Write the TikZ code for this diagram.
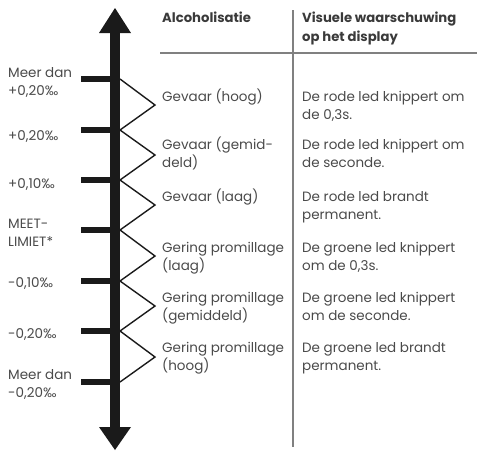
\documentclass[tikz,border=0pt]{standalone}
\usepackage{fontspec}
\setmainfont{Poppins}
\definecolor{ink}{HTML}{1A1A1A}
\definecolor{txt}{HTML}{4A4A4A}
\definecolor{hdr}{HTML}{3A3A3A}
\definecolor{rule}{HTML}{808080}
\begin{document}
\begin{tikzpicture}[x=1pt,y=-1pt,
  lbl/.style={anchor=base west,inner sep=0pt,align=left,text=txt,
    font=\fontsize{13.5}{18}\selectfont},
  head/.style={anchor=base west,inner sep=0pt,align=left,text=hdr,
    font=\fontsize{13.2}{19}\selectfont\bfseries},
  tickbar/.style={draw=ink,line width=6pt},
  zig/.style={draw=ink,line width=1.4pt,line join=miter},
  sep/.style={draw=rule,line width=1.5pt}]
\useasboundingbox (0,0) rectangle (477,451);
% axis
\coordinate (atop) at (115,8);
\coordinate (abot) at (115,450);
\draw[ink,line width=9.5pt] (115,30) -- (115,430);
\fill[ink] (atop) -- (131,33) -- (99,33) -- cycle;
\fill[ink] (abot) -- (131,427) -- (99,427) -- cycle;
% ticks
\foreach \i/\y in {1/79,2/130,3/180,4/230,5/281,6/331,7/382}{
  \coordinate (t\i) at (120,\y);
  \draw[tickbar] (81,\y) -- (116,\y);
}
% zigzag
\foreach \i/\y in {1/105,2/155,3/205,4/256,5/306,6/357}{
  \coordinate (p\i) at (155,\y);
}
\draw[zig] (t1) -- (p1) -- (t2) -- (p2) -- (t3) -- (p3) -- (t4) -- (p4) -- (t5) -- (p5) -- (t6) -- (p6) -- (t7);
% table lines
\coordinate (vtop) at (293,10);
\coordinate (vbot) at (293,447);
\coordinate (hl) at (160,53);
\coordinate (hr) at (477,53);
\draw[sep] (vtop) -- (vbot);
\draw[sep] (hl) -- (hr);
% headers (base = last line baseline)
\node[head] (h1) at (162,22) {Alcoholisatie};
\node[head] (h2) at (302,41) {Visuele waarschuwing\\op het display};
% left labels
\node[lbl] (l1) at (8,95) {Meer dan\\+0,20‰};
\node[lbl] (l2) at (8,140) {+0,20‰};
\node[lbl] (l3) at (8,188) {+0,10‰};
\node[lbl] (l4) at (8,246) {MEET-\\LIMIET*};
\node[lbl] (l5) at (8,287) {-0,10‰};
\node[lbl] (l6) at (8,338) {-0,20‰};
\node[lbl] (l7) at (8,397) {Meer dan\\-0,20‰};
% alcohol levels
\node[lbl] (a1) at (162,101) {Gevaar (hoog)};
\node[lbl] (a2) at (162,167) {Gevaar (gemid-\\deld)};
\node[lbl] (a3) at (162,201) {Gevaar (laag)};
\node[lbl] (a4) at (162,270) {Gering promillage\\(laag)};
\node[lbl] (a5) at (162,320) {Gering promillage\\(gemiddeld)};
\node[lbl] (a6) at (162,370) {Gering promillage\\(hoog)};
% warnings
\node[lbl] (w1) at (302,119) {De rode led knippert om\\de 0,3s.};
\node[lbl] (w2) at (302,167) {De rode led knippert om\\de seconde.};
\node[lbl] (w3) at (302,219) {De rode led brandt\\permanent.};
\node[lbl] (w4) at (302,270) {De groene led knippert\\om de 0,3s.};
\node[lbl] (w5) at (302,320) {De groene led knippert\\om de seconde.};
\node[lbl] (w6) at (302,370) {De groene led brandt\\permanent.};
\end{tikzpicture}
\end{document}
